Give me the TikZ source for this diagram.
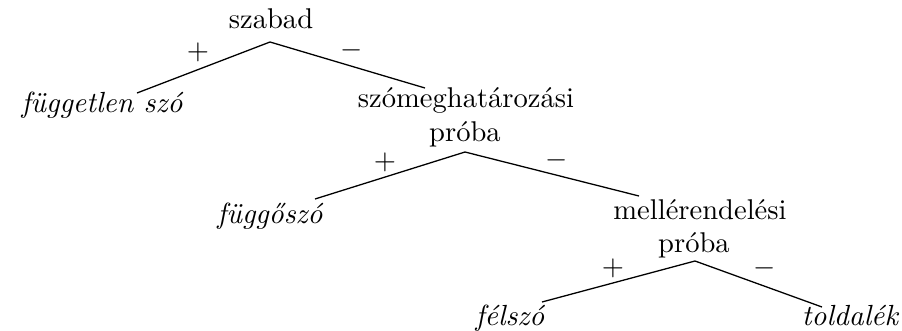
\documentclass[tikz,border=0pt]{standalone}
\begin{document}
\begin{tikzpicture}[x=0.35pt,y=-0.35pt,
  lbl/.style={anchor=base,inner sep=0pt,font=\fontsize{10}{12}\selectfont},
  leaf/.style={lbl,font=\fontsize{10.2}{12}\selectfont\itshape},
  sgn/.style={anchor=center,inner sep=0pt,font=\fontsize{10}{12}\selectfont},
  edge/.style={line width=0.45pt}]
\useasboundingbox (0,0) rectangle (902,331);
% nodes
\node[lbl] (szabad) at (271,28) {szabad};
\node[leaf] (fugg) at (102,112) {független szó};
\node[lbl] (szom) at (466,107) {szómeghatározási};
\node[lbl] (proba1) at (465,141) {próba};
\node[leaf] (fuggo) at (270,223) {függőszó};
\node[lbl] (mell) at (700,219) {mellérendelési};
\node[lbl] (proba2) at (694,252) {próba};
\node[leaf] (felszo) at (510,325) {félszó};
\node[leaf] (told) at (850,325) {toldalék};
% connector points
\coordinate (a1) at (270,42);
\coordinate (l1) at (137,93);
\coordinate (r1) at (425,88);
\coordinate (a2) at (465,152);
\coordinate (l2) at (315,199);
\coordinate (r2) at (639,196);
\coordinate (a3) at (695,261);
\coordinate (l3) at (542,302);
\coordinate (r3) at (822,307);
\draw[edge] (l1) -- (a1) -- (r1);
\draw[edge] (l2) -- (a2) -- (r2);
\draw[edge] (l3) -- (a3) -- (r3);
% signs
\node[sgn] (p1) at (198,52) {$+$};
\node[sgn] (m1) at (352,50) {$-$};
\node[sgn] (p2) at (385,162) {$+$};
\node[sgn] (m2) at (557,160) {$-$};
\node[sgn] (p3) at (613,268) {$+$};
\node[sgn] (m3) at (765,268) {$-$};
\end{tikzpicture}
\end{document}
